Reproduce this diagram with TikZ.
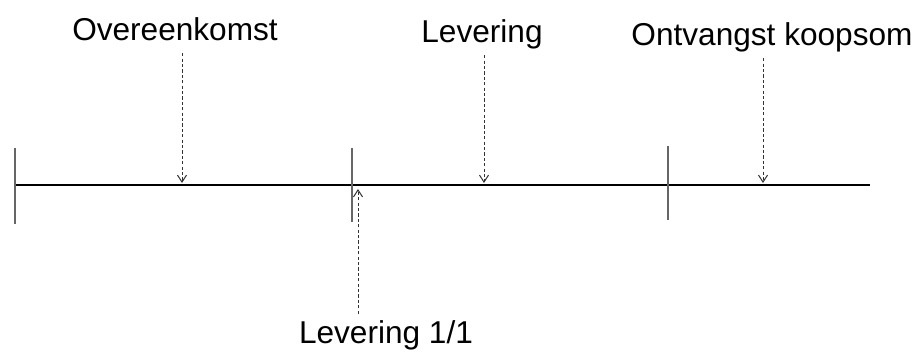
\documentclass[tikz,border=0pt]{standalone}
\usepackage{fontspec}
\setmainfont{Liberation Sans}
\usetikzlibrary{arrows.meta}
\begin{document}
\begin{tikzpicture}[x=0.5pt, y=-0.5pt,
        lbl/.style={font=\fontsize{15.8pt}{19pt}\selectfont, inner sep=3pt,
            text height=11.4pt, text depth=3.4pt, anchor=base},
        tick/.style={draw=black!60, line width=0.9pt},
        pijl/.style={draw=black!80, line width=0.5pt, dash pattern=on 1.6pt off 1.1pt,
            -{Straight Barb[length=3.5pt,width=4.5pt]}}]
        \useasboundingbox (0,0) rectangle (920,354);

        % tijdlijn
        \coordinate (begin) at (15,185);
        \coordinate (einde) at (870,185);
        \draw[line width=0.55pt] (begin) -- (einde);
        \foreach \x/\a/\b in {15/148/224, 352/148/222, 668/146/220}
            \draw[tick] (\x,\a) -- (\x,\b);

        % gebeurtenissen
        \node[lbl] (ov) at (175,40) {Overeenkomst};
        \node[lbl] (lev) at (482,42) {Levering};
        \node[lbl] (ont) at (772,45) {Ontvangst koopsom};
        \node[lbl] (lev11) at (386,343) {Levering 1/1};

        \coordinate (ovpunt) at (182,183);
        \coordinate (levpunt) at (484,183);
        \coordinate (ontpunt) at (763,183);
        \coordinate (lev11punt) at (358,189);

        \draw[pijl] (ov.south -| ovpunt) -- (ovpunt);
        \draw[pijl] (lev.south -| levpunt) -- (levpunt);
        \draw[pijl] (ont.south -| ontpunt) -- (ontpunt);
        \draw[pijl] (lev11.north -| lev11punt) -- (lev11punt);
    \end{tikzpicture}
\end{document}
